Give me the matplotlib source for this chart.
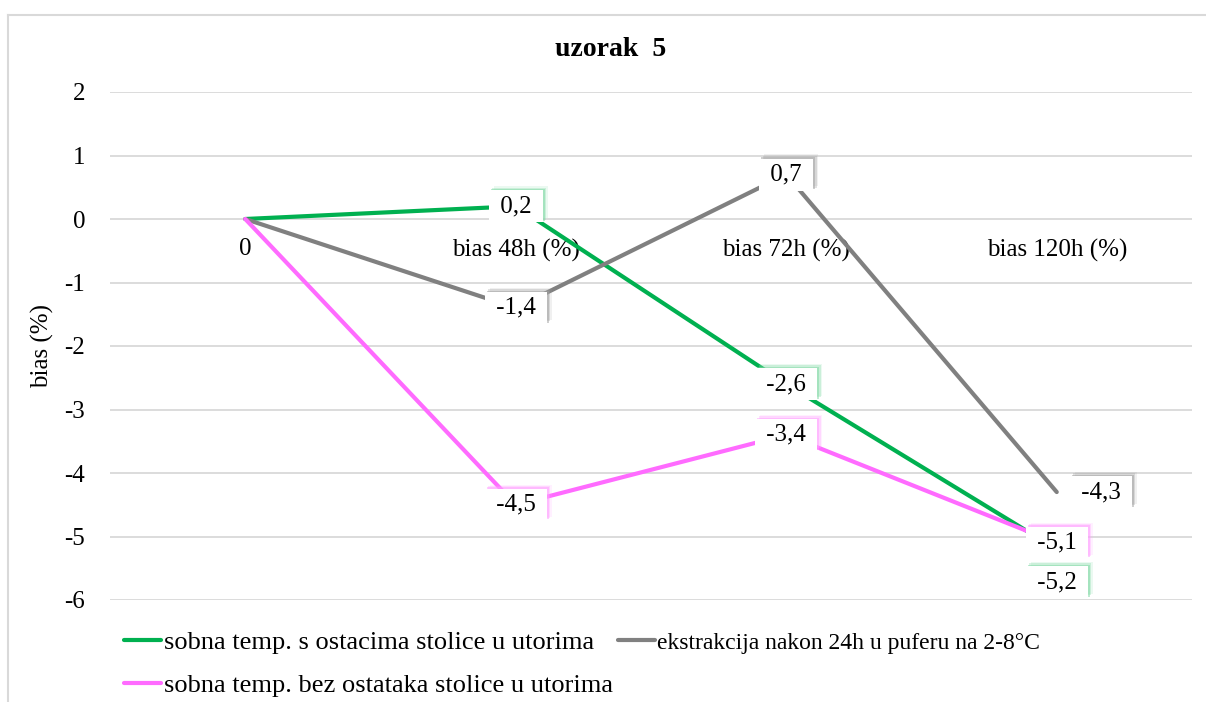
import matplotlib.pyplot as plt
import matplotlib.patheffects as pe
from matplotlib.lines import Line2D

plt.rcParams['font.family'] = ['Liberation Serif', 'DejaVu Serif']

# chart data
categories = ['0', 'bias 48h (%)', 'bias 72h (%)', 'bias 120h (%)']
series_names = ['sobna temp. s ostacima stolice u utorima',
                'ekstrakcija nakon 24h u puferu na 2-8°C',
                'sobna temp. bez ostataka stolice u utorima']
green_vals = [0, 0.2, -2.6, -5.2]
gray_vals = [0, -1.4, 0.7, -4.3]
pink_vals = [0, -4.5, -3.4, -5.1]
y_ticks = [2, 1, 0, -1, -2, -3, -4, -5, -6]

colors = ['#00B050', '#808080', '#FF6BFF']
glow = ['#7fd9a4', '#a0a0a0', '#ff9eff']
all_vals = [green_vals, gray_vals, pink_vals]

# manual label nudges (pixels) where excel labels were dragged
label_offsets = {(0, 3): (0, -33), (1, 3): (44, 0)}

fig = plt.figure(figsize=(12.06, 7.02), dpi=100)
ax = fig.add_axes([110 / 1206, 1 - 600 / 702, 1082 / 1206, 508 / 702])

x = list(range(len(categories)))
lines = []
for i, vals in enumerate(all_vals):
    ln, = ax.plot(x, vals, color=colors[i], lw=3, solid_capstyle='round', zorder=3)
    lines.append(ln)

for i, vals in enumerate(all_vals):
    for j, v in enumerate(vals):
        if j == 0:
            continue
        dx, dy = label_offsets.get((i, j), (0, 0))
        txt = ' ' + f'{v:.1f}'.replace('.', ',') + ' '
        t = ax.annotate(txt, (j, v), xytext=(dx * 0.72, dy * 0.72),
                        textcoords='offset points', ha='center', va='center', fontsize=18,
                        zorder=5,
                        bbox=dict(boxstyle='square,pad=0.2', fc='white', ec='none'))
        t.get_bbox_patch().set_path_effects([
            pe.SimplePatchShadow(offset=(3.5, 3), shadow_rgbFace=glow[i], alpha=0.15),
            pe.SimplePatchShadow(offset=(2.5, 2), shadow_rgbFace=glow[i], alpha=0.3),
            pe.SimplePatchShadow(offset=(1.5, 1), shadow_rgbFace=glow[i], alpha=0.5),
            pe.Normal()])

ax.set_xlim(-0.5, len(categories) - 0.5)
ax.set_ylim(-6, 2)
ax.set_yticks(y_ticks)
ax.set_yticklabels([str(t) for t in y_ticks])
ax.grid(axis='y', color='#d9d9d9', lw=1.3, zorder=0)
ax.set_axisbelow(True)
ax.set_xticks(x)
ax.set_xticklabels(categories)
ax.spines['bottom'].set_position(('data', 0))
for s in ['top', 'right', 'left', 'bottom']:
    ax.spines[s].set_visible(False)
ax.tick_params(axis='x', length=0, pad=14, labelsize=18)
ax.tick_params(axis='y', length=0, pad=18, labelsize=18)
ax.set_ylabel('bias (%)', fontsize=18, labelpad=7)

fig.text(0.506, 1 - 50 / 702, 'uzorak  5', ha='center', va='center',
         fontsize=20, fontweight='bold')

# chart frame (top and left edges visible)
fig.add_artist(Line2D([8 / 1206, 1], [1 - 15 / 702, 1 - 15 / 702], color='#d9d9d9', lw=1.5))
fig.add_artist(Line2D([8 / 1206, 8 / 1206], [0, 1 - 15 / 702], color='#d9d9d9', lw=1.5))

leg = fig.legend([lines[0], lines[2], lines[1]],
                 [series_names[0], series_names[2], series_names[1]],
                 ncol=2, loc='upper left', bbox_to_anchor=(124 / 1206, 1 - 631 / 702),
                 frameon=False, fontsize=19, handlelength=1.4, handletextpad=0.1,
                 columnspacing=0.2, labelspacing=0.72, borderaxespad=0, borderpad=0)
leg.get_texts()[2].set_fontsize(17)

fig.savefig('out.png', dpi=100)
